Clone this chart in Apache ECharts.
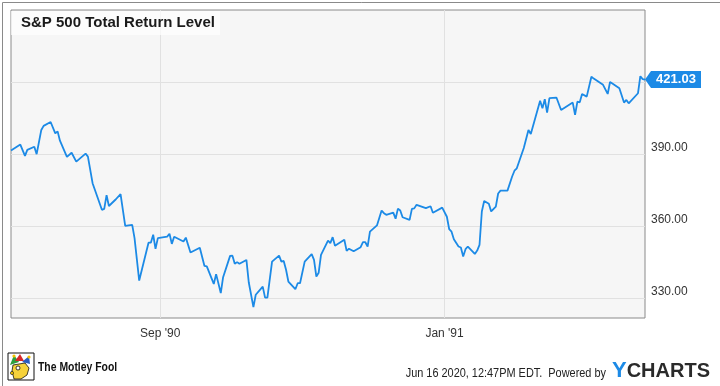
<!DOCTYPE html>
<html>
<head>
<meta charset="utf-8">
<script src="https://cdn.jsdelivr.net/npm/echarts@6/dist/echarts.min.js"></script>
<style>
html,body{margin:0;padding:0;background:#fff;}
#chart{width:720px;height:386px;}
</style>
</head>
<body>
<div id="chart"></div>
<script>
var titleText = 'S&P 500 Total Return Level';
var dates = [
'1990-06-29','1990-07-03','1990-07-05','1990-07-06','1990-07-09','1990-07-10','1990-07-12','1990-07-13','1990-07-16','1990-07-18',
'1990-07-19','1990-07-20','1990-07-23','1990-07-25','1990-07-27','1990-07-31','1990-08-01','1990-08-03','1990-08-07','1990-08-08',
'1990-08-09','1990-08-10','1990-08-13','1990-08-15','1990-08-17','1990-08-20','1990-08-21','1990-08-23','1990-08-27','1990-08-28',
'1990-08-29','1990-08-30','1990-08-31','1990-09-04','1990-09-05','1990-09-06','1990-09-07','1990-09-11','1990-09-12','1990-09-14',
'1990-09-18','1990-09-20','1990-09-21','1990-09-24','1990-09-25','1990-09-27','1990-09-28','1990-10-01','1990-10-02','1990-10-03',
'1990-10-04','1990-10-05','1990-10-08','1990-10-09','1990-10-11','1990-10-12','1990-10-15','1990-10-16','1990-10-17','1990-10-19',
'1990-10-22','1990-10-23','1990-10-24','1990-10-25','1990-10-26','1990-10-29','1990-10-30','1990-10-31','1990-11-02','1990-11-05',
'1990-11-06','1990-11-07','1990-11-08','1990-11-09','1990-11-12','1990-11-13','1990-11-14','1990-11-15','1990-11-19','1990-11-20',
'1990-11-21','1990-11-23','1990-11-26','1990-11-27','1990-11-28','1990-11-29','1990-11-30','1990-12-03','1990-12-05','1990-12-06',
'1990-12-07','1990-12-10','1990-12-11','1990-12-12','1990-12-13','1990-12-14','1990-12-17','1990-12-18','1990-12-19','1990-12-20',
'1990-12-24','1990-12-26','1990-12-27','1990-12-31','1991-01-02','1991-01-03','1991-01-04','1991-01-05','1991-01-07','1991-01-08',
'1991-01-09','1991-01-10','1991-01-11','1991-01-14','1991-01-15','1991-01-16','1991-01-17','1991-01-18','1991-01-20','1991-01-21',
'1991-01-23','1991-01-24','1991-01-25','1991-01-28','1991-01-30','1991-01-31','1991-02-01','1991-02-04','1991-02-06','1991-02-07',
'1991-02-11','1991-02-12','1991-02-13','1991-02-14','1991-02-15','1991-02-18','1991-02-20','1991-02-25','1991-02-26','1991-02-27',
'1991-02-28','1991-03-01','1991-03-03','1991-03-05','1991-03-06','1991-03-10','1991-03-12','1991-03-13','1991-03-14','1991-03-17',
'1991-03-19','1991-03-20','1991-03-21','1991-03-25','1991-03-26','1991-03-27','1991-03-28'
];
var values = [
391.4,393.9,389.2,391.7,393.0,389.9,400.0,401.7,403.3,398.6,
399.4,395.5,388.8,390.5,386.8,390.1,388.9,377.8,366.7,367.1,
372.8,368.3,371.1,373.2,360.0,360.4,354.9,337.2,353.0,353.0,
356.3,350.4,354.9,355.5,356.7,352.5,355.5,353.5,355.1,348.9,
350.9,343.3,343.1,335.8,339.9,332.0,338.6,347.5,347.6,344.2,
344.9,344.2,345.8,336.5,326.1,331.3,334.7,330.1,330.1,345.1,
347.6,345.1,345.4,341.7,336.8,333.6,336.1,336.1,345.1,348.2,
345.8,338.9,340.5,347.9,353.9,352.8,355.3,351.7,354.2,349.6,
350.5,349.4,351.1,353.2,353.2,351.4,357.6,360.2,366.4,365.3,
364.6,365.5,363.0,367.2,366.4,363.6,362.5,367.1,367.3,368.8,
367.4,368.2,365.5,367.6,363.8,358.6,357.6,354.4,351.4,351.0,
347.2,350.3,351.4,348.3,349.7,352.1,366.0,370.4,369.2,366.0,
368.0,373.5,374.7,374.7,380.6,383.0,384.0,392.5,400.0,398.3,
412.2,409.0,412.8,407.2,413.3,413.5,408.3,411.4,406.3,411.8,
411.5,415.0,413.9,422.2,421.4,418.8,415.0,420.0,419.4,417.4,
411.4,412.5,411.1,415.3,422.4,421.2,421.03
];
var xTickDates = ['1990-09-01','1991-01-01'];
var xTickLabels = ["Sep '90","Jan '91"];
var yLabelValues = [330, 360, 390];
var yGridValues = [330, 360, 390, 420];
var footerText = 'Jun 16 2020, 12:47PM EDT.  Powered by';
var brandText = 'The Motley Fool';

var parse = function (s) { return echarts.time.parse(s).getTime(); };
var xs = dates.map(parse);
var seriesData = xs.map(function (t, i) { return [t, values[i]]; });
var xTickVals = xTickDates.map(parse);
var lastIdx = values.length - 1;

var chart = echarts.init(document.getElementById('chart'), null, {renderer: 'canvas'});
chart.setOption({
  animation: false,
  backgroundColor: '#ffffff',
  grid: {
    left: 11, right: 75, top: 10, bottom: 68,
    show: true, backgroundColor: '#f6f6f6', borderColor: '#8a8a8a', borderWidth: 1
  },
  xAxis: {
    type: 'value',
    min: xs[0],
    max: xs[lastIdx],
    axisLine: {show: false},
    axisTick: {show: false, customValues: xTickVals},
    splitLine: {show: true, lineStyle: {color: '#e1e1e1', width: 1}},
    axisLabel: {
      customValues: xTickVals,
      margin: 10,
      color: '#333',
      fontSize: 12,
      fontFamily: 'Liberation Sans, Arial, sans-serif',
      formatter: function (v) {
        var idx = xTickVals.indexOf(+v);
        return idx >= 0 ? xTickLabels[idx] : '';
      }
    }
  },
  yAxis: {
    type: 'value',
    position: 'right',
    min: 321.6,
    max: 450,
    axisLine: {show: false},
    axisTick: {show: false, customValues: yGridValues},
    splitLine: {show: true, lineStyle: {color: '#e1e1e1', width: 1}},
    axisLabel: {
      customValues: yLabelValues,
      margin: 6,
      color: '#333',
      fontSize: 12,
      lineHeight: 12,
      verticalAlign: 'bottom',
      fontFamily: 'Liberation Sans, Arial, sans-serif',
      formatter: function (v) { return Number(v).toFixed(2); }
    }
  },
  series: [{
    type: 'line',
    data: seriesData,
    showSymbol: false,
    symbol: 'none',
    lineStyle: {color: '#1c8ae6', width: 1.8},
    z: 3,
    markPoint: {
      silent: true,
      symbol: 'path://M0,8.5 L6,0 L56,0 L56,17 L6,17 Z',
      symbolSize: [56, 17],
      symbolOffset: [28, 0],
      itemStyle: {color: '#1c8ae6'},
      label: {
        show: true,
        position: 'inside',
        offset: [3, 0],
        color: '#fff',
        fontWeight: 'bold',
        fontSize: 13,
        fontFamily: 'Liberation Sans, Arial, sans-serif',
        formatter: function (p) { return Number(p.value).toFixed(2); }
      },
      data: [{coord: [xs[lastIdx], values[lastIdx]], value: values[lastIdx]}]
    }
  }],
  graphic: [
    {type: 'rect', left: 0, top: 0, shape: {x: 0.5, y: 0.5, width: 719, height: 384}, style: {fill: 'none', stroke: '#8a8a8a', lineWidth: 1}, silent: true, z: 100},
    {type: 'rect', shape: {x: 11, y: 11, width: 209, height: 24}, style: {fill: 'rgba(255,255,255,0.7)'}, z: 10, silent: true},
    {type: 'text', x: 21, y: 23, style: {text: titleText, fontSize: 15, fontWeight: 'bold', fill: '#1a1a1a', fontFamily: 'Liberation Sans, Arial, sans-serif', verticalAlign: 'middle'}, z: 11},
    {type: 'group', x: 8, y: 353, z: 20, children: [
      {type: 'rect', shape: {x: 0, y: 0, width: 26, height: 27}, style: {fill: '#fff', stroke: '#111', lineWidth: 1}},
      {type: 'polygon', shape: {points: [[2,12],[6,2],[11,9]]}, style: {fill: '#2e9e3e'}},
      {type: 'polygon', shape: {points: [[7,8],[12,1],[16,8]]}, style: {fill: '#d62828'}},
      {type: 'polygon', shape: {points: [[14,9],[21,3],[22,11]]}, style: {fill: '#2a5dc4'}},
      {type: 'circle', shape: {cx: 6, cy: 3, r: 1.6}, style: {fill: '#f2c200'}},
      {type: 'circle', shape: {cx: 21, cy: 4, r: 1.6}, style: {fill: '#f2c200'}},
      {type: 'polygon', shape: {points: [[5,12],[17,10],[21,15],[19,22],[13,26],[6,26],[4,18]]}, style: {fill: '#f6d23b', stroke: '#111', lineWidth: 0.8}},
      {type: 'circle', shape: {cx: 10, cy: 15, r: 2}, style: {fill: '#fff', stroke: '#111', lineWidth: 0.8}},
      {type: 'circle', shape: {cx: 4, cy: 20, r: 1.6}, style: {fill: '#f2c200', stroke: '#111', lineWidth: 0.6}}
    ]},
    {type: 'text', x: 38, y: 367, scaleX: 0.8, z: 20, style: {text: brandText, fontSize: 13, fontWeight: 'bold', fill: '#111', fontFamily: 'Liberation Sans, Arial, sans-serif', verticalAlign: 'middle'}},
    {type: 'text', x: 606, y: 374, scaleX: 0.91, z: 20, style: {text: footerText, fontSize: 12, fill: '#222', fontFamily: 'Liberation Sans, Arial, sans-serif', align: 'right', verticalAlign: 'middle'}},
    {type: 'text', x: 612, y: 371, z: 20, style: {
      text: '{y|Y}{c|CHARTS}',
      verticalAlign: 'middle',
      rich: {
        y: {fontSize: 22, fontWeight: 'bold', fill: '#1c8ae6', fontFamily: 'Liberation Sans, Arial, sans-serif'},
        c: {fontSize: 20, fontWeight: 'bold', fill: '#2a2a2a', fontFamily: 'Liberation Sans, Arial, sans-serif'}
      }
    }}
  ]
});
</script>
</body>
</html>
